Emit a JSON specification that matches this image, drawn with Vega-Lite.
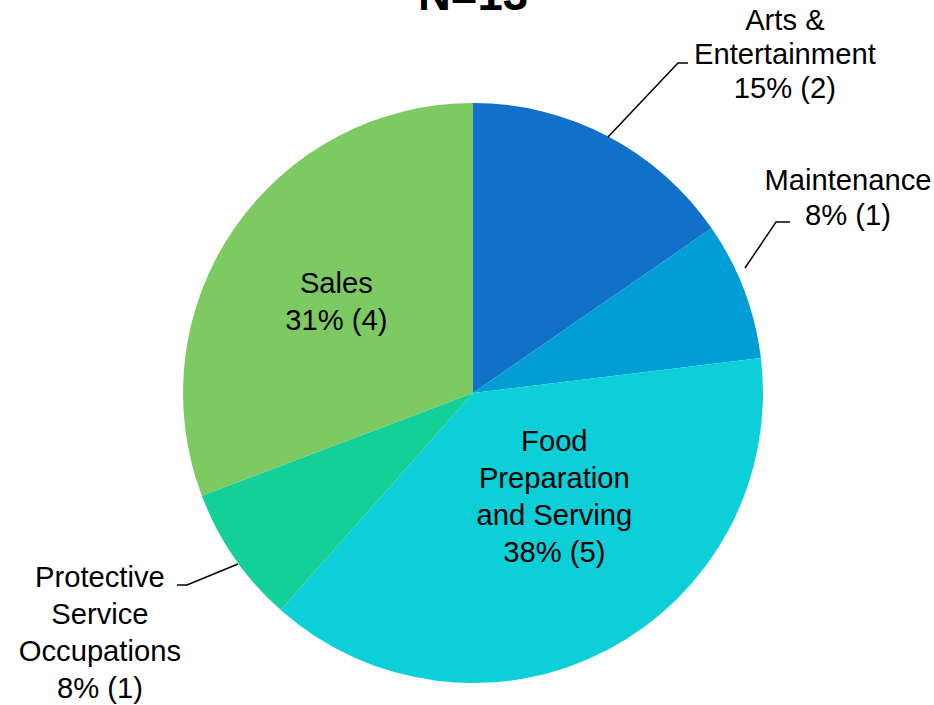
{
  "$schema": "https://vega.github.io/schema/vega-lite/v6.json",
  "width": 922,
  "height": 624,
  "autosize": {"type": "none"},
  "padding": {"left": 12, "top": 81, "right": 0, "bottom": 0},
  "background": "white",
  "title": {"text": "N=13", "font": "Liberation Sans", "fontSize": 45.5, "fontWeight": "bold", "color": "black", "anchor": "middle", "baseline": "alphabetic", "offset": -49},
  "config": {"view": {"stroke": null}},
  "datasets": {
    "slices": [
      {"cat": "Arts & Entertainment", "n": 2, "rank": 1, "label": "Arts &\nEntertainment\n15% (2)"},
      {"cat": "Maintenance", "n": 1, "rank": 2, "label": "Maintenance\n8% (1)"},
      {"cat": "Food Preparation and Serving", "n": 5, "rank": 3, "label": "Food\nPreparation\nand Serving\n38% (5)"},
      {"cat": "Protective Service Occupations", "n": 1, "rank": 4, "label": "Protective\nService\nOccupations\n8% (1)"},
      {"cat": "Sales", "n": 4, "rank": 5, "label": "Sales\n31% (4)"}
    ],
    "leaders": [
      {"cat": "Arts & Entertainment", "step": 1, "px": 135, "py": 256},
      {"cat": "Arts & Entertainment", "step": 2, "px": 205, "py": 330},
      {"cat": "Arts & Entertainment", "step": 3, "px": 215, "py": 330},
      {"cat": "Maintenance", "step": 1, "px": 272, "py": 125},
      {"cat": "Maintenance", "step": 2, "px": 303, "py": 171},
      {"cat": "Maintenance", "step": 3, "px": 317, "py": 171},
      {"cat": "Protective Service Occupations", "step": 1, "px": -235, "py": -171},
      {"cat": "Protective Service Occupations", "step": 2, "px": -286, "py": -192},
      {"cat": "Protective Service Occupations", "step": 3, "px": -296, "py": -192}
    ]
  },
  "layer": [
    {
      "data": {"name": "slices"},
      "mark": {"type": "arc", "radius": 290},
      "encoding": {
        "theta": {"field": "n", "type": "quantitative", "stack": true},
        "order": {"field": "rank", "type": "quantitative", "sort": "ascending"},
        "color": {
          "field": "cat", "type": "nominal", "legend": null,
          "scale": {
            "domain": ["Arts & Entertainment", "Maintenance", "Food Preparation and Serving", "Protective Service Occupations", "Sales"],
            "range": ["#1170C7", "#019ED6", "#0CCFD8", "#13CF98", "#7DCA63"]
          }
        }
      }
    },
    {
      "data": {"name": "leaders"},
      "mark": {"type": "line", "color": "black", "strokeWidth": 1.5},
      "encoding": {
        "x": {"field": "px", "type": "quantitative", "scale": {"domain": [-461, 461], "nice": false, "zero": false}, "axis": null},
        "y": {"field": "py", "type": "quantitative", "scale": {"domain": [-312, 312], "nice": false, "zero": false}, "axis": null},
        "detail": {"field": "cat", "type": "nominal"},
        "order": {"field": "step", "type": "quantitative"}
      }
    },
    {
      "data": {"name": "slices"},
      "transform": [
        {"stack": "n", "groupby": [], "sort": [{"field": "rank", "order": "ascending"}], "as": ["t0", "t1"]},
        {"calculate": "(datum.t0 + datum.t1) / 2", "as": "mid"},
        {"filter": "datum.cat === 'Sales'"}
      ],
      "mark": {"type": "text", "radius": 166, "dx": 0, "dy": -15, "font": "Liberation Sans", "fontSize": 29.2, "lineHeight": 37, "lineBreak": "\n", "align": "center", "baseline": "middle", "color": "black"},
      "encoding": {
        "theta": {"field": "mid", "type": "quantitative", "stack": null},
        "text": {"field": "label"}
      }
    },
    {
      "data": {"name": "slices"},
      "transform": [
        {"stack": "n", "groupby": [], "sort": [{"field": "rank", "order": "ascending"}], "as": ["t0", "t1"]},
        {"calculate": "(datum.t0 + datum.t1) / 2", "as": "mid"},
        {"filter": "datum.cat === 'Food Preparation and Serving'"}
      ],
      "mark": {"type": "text", "radius": 132, "dx": 20, "dy": -68, "font": "Liberation Sans", "fontSize": 29.2, "lineHeight": 37, "lineBreak": "\n", "align": "center", "baseline": "middle", "color": "black"},
      "encoding": {
        "theta": {"field": "mid", "type": "quantitative", "stack": null},
        "text": {"field": "label"}
      }
    },
    {
      "data": {"name": "slices"},
      "transform": [
        {"stack": "n", "groupby": [], "sort": [{"field": "rank", "order": "ascending"}], "as": ["t0", "t1"]},
        {"calculate": "(datum.t0 + datum.t1) / 2", "as": "mid"},
        {"filter": "datum.cat === 'Arts & Entertainment'"}
      ],
      "mark": {"type": "text", "radius": 400, "dx": 126, "dy": -18, "font": "Liberation Sans", "fontSize": 29.2, "lineHeight": 34, "lineBreak": "\n", "align": "center", "baseline": "middle", "color": "black"},
      "encoding": {
        "theta": {"field": "mid", "type": "quantitative", "stack": null},
        "text": {"field": "label"}
      }
    },
    {
      "data": {"name": "slices"},
      "transform": [
        {"stack": "n", "groupby": [], "sort": [{"field": "rank", "order": "ascending"}], "as": ["t0", "t1"]},
        {"calculate": "(datum.t0 + datum.t1) / 2", "as": "mid"},
        {"filter": "datum.cat === 'Maintenance'"}
      ],
      "mark": {"type": "text", "radius": 400, "dx": 1, "dy": -70, "font": "Liberation Sans", "fontSize": 29.2, "lineHeight": 35, "lineBreak": "\n", "align": "center", "baseline": "middle", "color": "black"},
      "encoding": {
        "theta": {"field": "mid", "type": "quantitative", "stack": null},
        "text": {"field": "label"}
      }
    },
    {
      "data": {"name": "slices"},
      "transform": [
        {"stack": "n", "groupby": [], "sort": [{"field": "rank", "order": "ascending"}], "as": ["t0", "t1"]},
        {"calculate": "(datum.t0 + datum.t1) / 2", "as": "mid"},
        {"filter": "datum.cat === 'Protective Service Occupations'"}
      ],
      "mark": {"type": "text", "radius": 440, "dx": -11, "dy": -65, "font": "Liberation Sans", "fontSize": 29.2, "lineHeight": 37, "lineBreak": "\n", "align": "center", "baseline": "middle", "color": "black"},
      "encoding": {
        "theta": {"field": "mid", "type": "quantitative", "stack": null},
        "text": {"field": "label"}
      }
    }
  ]
}
